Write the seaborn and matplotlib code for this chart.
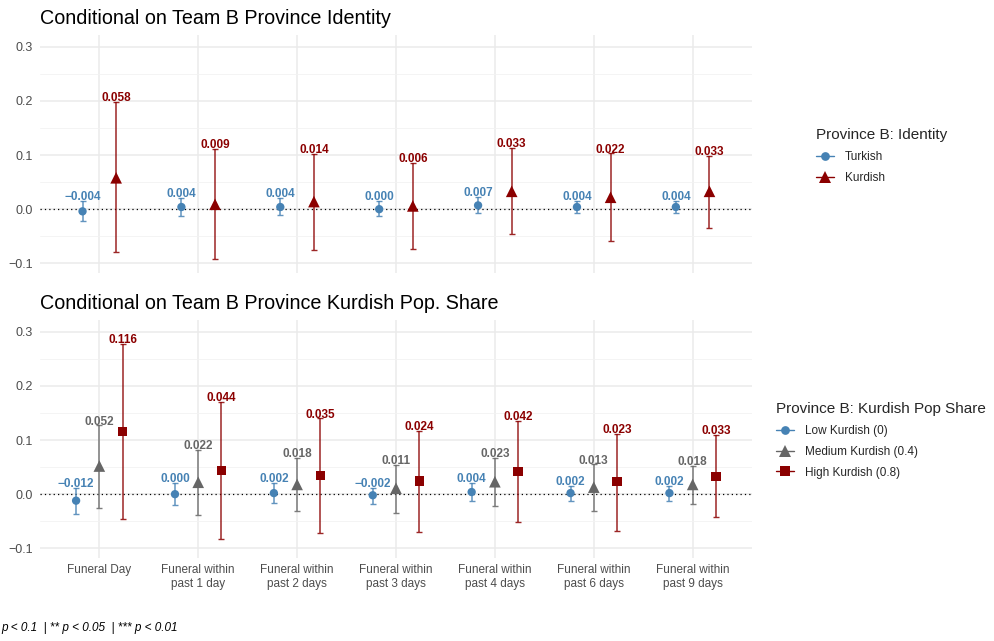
import numpy as np
import pandas as pd
import matplotlib.pyplot as plt
import seaborn as sns
from matplotlib.lines import Line2D
from matplotlib.ticker import FuncFormatter, MultipleLocator

# Categories (x axis)
categories = ["Funeral Day", "Funeral within\npast 1 day", "Funeral within\npast 2 days",
              "Funeral within\npast 3 days", "Funeral within\npast 4 days",
              "Funeral within\npast 6 days", "Funeral within\npast 9 days"]

# Panel 1: conditional on province identity
turkish_est = [-0.004, 0.004, 0.004, 0.000, 0.007, 0.004, 0.004]
turkish_lo = [-0.022, -0.012, -0.010, -0.012, -0.008, -0.008, -0.008]
turkish_hi = [0.015, 0.020, 0.020, 0.015, 0.022, 0.015, 0.015]

kurdish_est = [0.058, 0.009, 0.014, 0.006, 0.033, 0.022, 0.033]
kurdish_lo = [-0.079, -0.093, -0.075, -0.073, -0.046, -0.059, -0.035]
kurdish_hi = [0.199, 0.111, 0.102, 0.085, 0.114, 0.103, 0.099]

# Panel 2: conditional on Kurdish population share
low_est = [-0.012, 0.000, 0.002, -0.002, 0.004, 0.002, 0.002]
low_lo = [-0.036, -0.020, -0.017, -0.019, -0.012, -0.012, -0.012]
low_hi = [0.011, 0.020, 0.020, 0.012, 0.020, 0.015, 0.015]

med_est = [0.052, 0.022, 0.018, 0.011, 0.023, 0.013, 0.018]
med_lo = [-0.025, -0.038, -0.032, -0.034, -0.022, -0.031, -0.019]
med_hi = [0.127, 0.081, 0.067, 0.054, 0.067, 0.055, 0.053]

high_est = [0.116, 0.044, 0.035, 0.024, 0.042, 0.023, 0.033]
high_lo = [-0.046, -0.082, -0.072, -0.070, -0.052, -0.068, -0.042]
high_hi = [0.277, 0.170, 0.140, 0.117, 0.136, 0.112, 0.109]


def make_frame(group, est, lo, hi):
    return pd.DataFrame({"group": group, "cat": np.arange(len(categories)),
                         "est": est, "lo": lo, "hi": hi})


top_df = pd.concat([make_frame("Turkish", turkish_est, turkish_lo, turkish_hi),
                    make_frame("Kurdish", kurdish_est, kurdish_lo, kurdish_hi)])
bot_df = pd.concat([make_frame("Low Kurdish (0)", low_est, low_lo, low_hi),
                    make_frame("Medium Kurdish (0.4)", med_est, med_lo, med_hi),
                    make_frame("High Kurdish (0.8)", high_est, high_lo, high_hi)])

BLUE = "#4682B4"
RED = "#8B0000"
GREY = "#666666"

# style per group: colour, marker, scatter size, x offset
top_style = {
    "Turkish": (BLUE, "o", 36, -0.17),
    "Kurdish": (RED, "^", 70, 0.17),
}
bot_style = {
    "Low Kurdish (0)": (BLUE, "o", 36, -0.235),
    "Medium Kurdish (0.4)": (GREY, "^", 70, 0.0),
    "High Kurdish (0.8)": (RED, "s", 46, 0.235),
}

sns.set_theme(style="whitegrid")
plt.rcParams["font.family"] = ["Liberation Sans", "DejaVu Sans"]
plt.rcParams["axes.unicode_minus"] = True

fig = plt.figure(figsize=(9.95, 6.41), dpi=100)
ax_top = fig.add_axes([40 / 995, 368 / 641, 712 / 995, 238 / 641])
ax_bot = fig.add_axes([40 / 995, 83 / 641, 712 / 995, 238 / 641])


def draw_panel(ax, df, styles, title, show_x):
    for g, (c, m, s, off) in styles.items():
        sub = df[df.group == g].copy()
        sub["xpos"] = sub["cat"] + off
        ax.errorbar(sub["xpos"], sub["est"],
                    yerr=[sub["est"] - sub["lo"], sub["hi"] - sub["est"]],
                    fmt="none", ecolor=c, elinewidth=1.1, capsize=2.2,
                    capthick=1.0, alpha=0.85, zorder=2)
        sns.scatterplot(data=sub, x="xpos", y="est", color=c, marker=m, s=s,
                        edgecolor="none", linewidth=0, legend=False, ax=ax, zorder=3)
        for _, r in sub.iterrows():
            ax.annotate(f"{r.est:.3f}".replace("-", "\u2212"), (r.xpos, r.hi),
                        xytext=(0, 2.8), textcoords="offset points",
                        ha="center", va="center", fontsize=8.5,
                        fontweight="bold", color=c, zorder=4)

    ax.axhline(0, color="black", lw=0.9, ls=(0, (1, 2.5)), zorder=1)
    ax.set_xlim(-0.6, len(categories) - 0.4)
    ax.set_ylim(-0.118, 0.322)
    ax.set_xticks(np.arange(len(categories)))
    if show_x:
        ax.set_xticklabels(categories, fontsize=8.5, color="#4D4D4D", linespacing=1.3)
    else:
        ax.set_xticklabels([])
    ax.yaxis.set_major_locator(MultipleLocator(0.1))
    ax.yaxis.set_minor_locator(MultipleLocator(0.05))
    ax.yaxis.set_major_formatter(FuncFormatter(lambda v, p: f"{v:.1f}".replace("-", "\u2212")))
    ax.tick_params(axis="y", labelsize=9, labelcolor="#4D4D4D", length=0, pad=5)
    ax.tick_params(axis="x", length=0, pad=4)
    ax.grid(which="major", color="#EBEBEB", lw=1.1)
    ax.grid(which="minor", axis="y", color="#F2F2F2", lw=0.6)
    ax.grid(which="minor", axis="x", visible=False)
    ax.set_facecolor("white")
    for sp in ax.spines.values():
        sp.set_visible(False)
    ax.set_xlabel("")
    ax.set_ylabel("")
    ax.set_title(title, loc="left", fontsize=14.2, pad=8, color="black")


draw_panel(ax_top, top_df, top_style, "Conditional on Team B Province Identity", False)
draw_panel(ax_bot, bot_df, bot_style, "Conditional on Team B Province Kurdish Pop. Share", True)


def add_legend(styles, title, anchor):
    handles = [Line2D([0], [0], color=c, marker=m, lw=1.0, markersize=np.sqrt(s) * 1.05,
                      markeredgewidth=0)
               for c, m, s, _ in styles.values()]
    leg = fig.legend(handles, list(styles.keys()), title=title, loc="upper left",
                     bbox_to_anchor=anchor, frameon=False, fontsize=8.5,
                     title_fontsize=11, borderpad=0, borderaxespad=0,
                     handlelength=1.5, handletextpad=0.95, labelspacing=0.75,
                     alignment="left")
    return leg


add_legend(top_style, "Province B: Identity", (816 / 995, 1 - 128 / 641))
add_legend(bot_style, "Province B: Kurdish Pop Share", (776 / 995, 1 - 402 / 641))

fig.text(1 / 995, 1 - 628 / 641, "p < 0.1  | ** p < 0.05  | *** p < 0.01",
         fontsize=8.5, style="italic", color="black", ha="left", va="center")

fig.savefig("out.png", dpi=100, facecolor="white")
